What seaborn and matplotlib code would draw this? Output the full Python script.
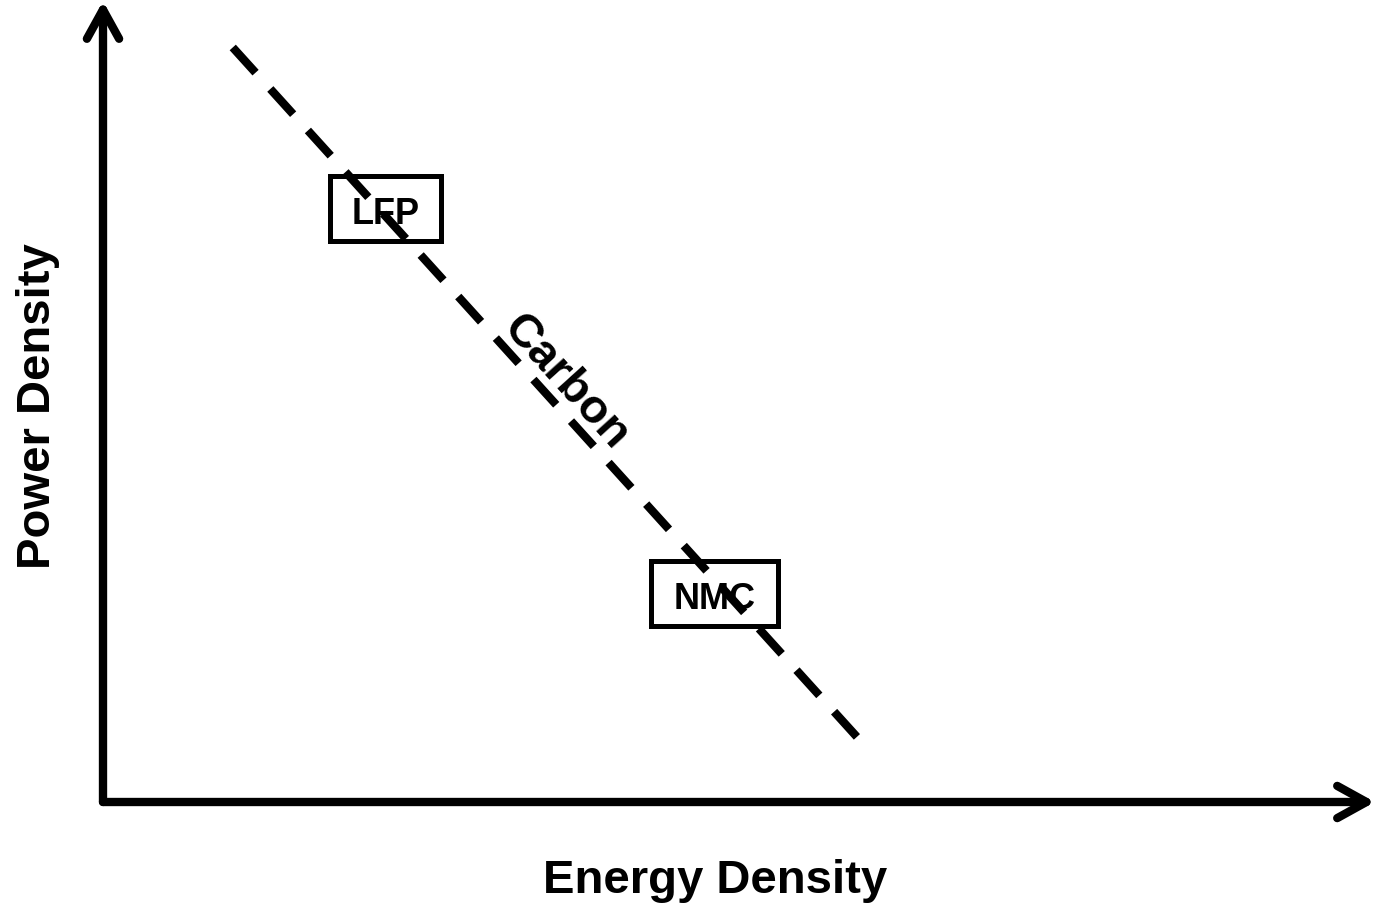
import matplotlib
matplotlib.use("Agg")
import matplotlib.pyplot as plt
from matplotlib.patches import Rectangle
import seaborn as sns

# Trade-off line (energy density vs power density, arbitrary units 0-10)
carbon_energy = [1.02, 5.94]
carbon_power = [9.42, 0.79]
carbon_label_pos = [3.64, 5.26]

# Cathode materials sitting on the line
materials = ["LFP", "NMC"]
material_energy = [2.22, 4.81]
material_power = [7.41, 2.60]

sns.set_theme(style="white")
plt.rcParams['font.family'] = ['Liberation Sans', 'DejaVu Sans']
plt.rcParams['text.color'] = 'black'

fig = plt.figure(figsize=(13.74, 9.04), dpi=100)
ax = fig.add_axes([103 / 1374, 101 / 904, 1272 / 1374, 801 / 904])
ax.set_xlim(0, 10)
ax.set_ylim(0, 10)
ax.set_xticks([])
ax.set_yticks([])
sns.despine(ax=ax, left=True, bottom=True)

# axes drawn as arrows
head = dict(arrowstyle="->,head_length=1.05,head_width=0.58", lw=6, color='black',
            shrinkA=0, shrinkB=0, mutation_scale=20, capstyle='round', joinstyle='round')
ax.annotate("", xy=(10, 0), xytext=(0, 0), arrowprops=head, annotation_clip=False)
ax.annotate("", xy=(0, 10), xytext=(0, 0), arrowprops=head, annotation_clip=False)

# dashed carbon line
sns.lineplot(x=carbon_energy, y=carbon_power, ax=ax, color='black', lw=6, zorder=4)
ax.lines[-1].set_linestyle((0, (4.08, 2.64)))
ax.text(carbon_label_pos[0], carbon_label_pos[1], "Carbon", rotation=-47.8,
        rotation_mode='anchor', ha='center', va='center', fontsize=34,
        fontweight='bold', color='black', zorder=3)

# material boxes
box_w = {"LFP": 0.87, "NMC": 1.0}
box_h = 0.81
for name, e, p in zip(materials, material_energy, material_power):
    ax.add_patch(Rectangle((e - box_w[name] / 2, p - box_h / 2), box_w[name], box_h,
                           facecolor='white', edgecolor='black', lw=3.6, zorder=2))
    ax.annotate(name, xy=(e, p), xytext=(0, -10.5), textcoords='offset points',
                ha='center', va='baseline', fontsize=26, fontweight='bold',
                color='black', zorder=3)

# axis titles
ax.text(0.481, -0.1126, "Energy Density", transform=ax.transAxes, ha='center',
        va='baseline', fontsize=34, fontweight='bold', color='black')
ax.text(-0.042, 0.495, "Power Density", transform=ax.transAxes, ha='center',
        va='baseline', rotation=90, rotation_mode='anchor', fontsize=34,
        fontweight='bold', color='black')

fig.savefig("out.png", dpi=100)
